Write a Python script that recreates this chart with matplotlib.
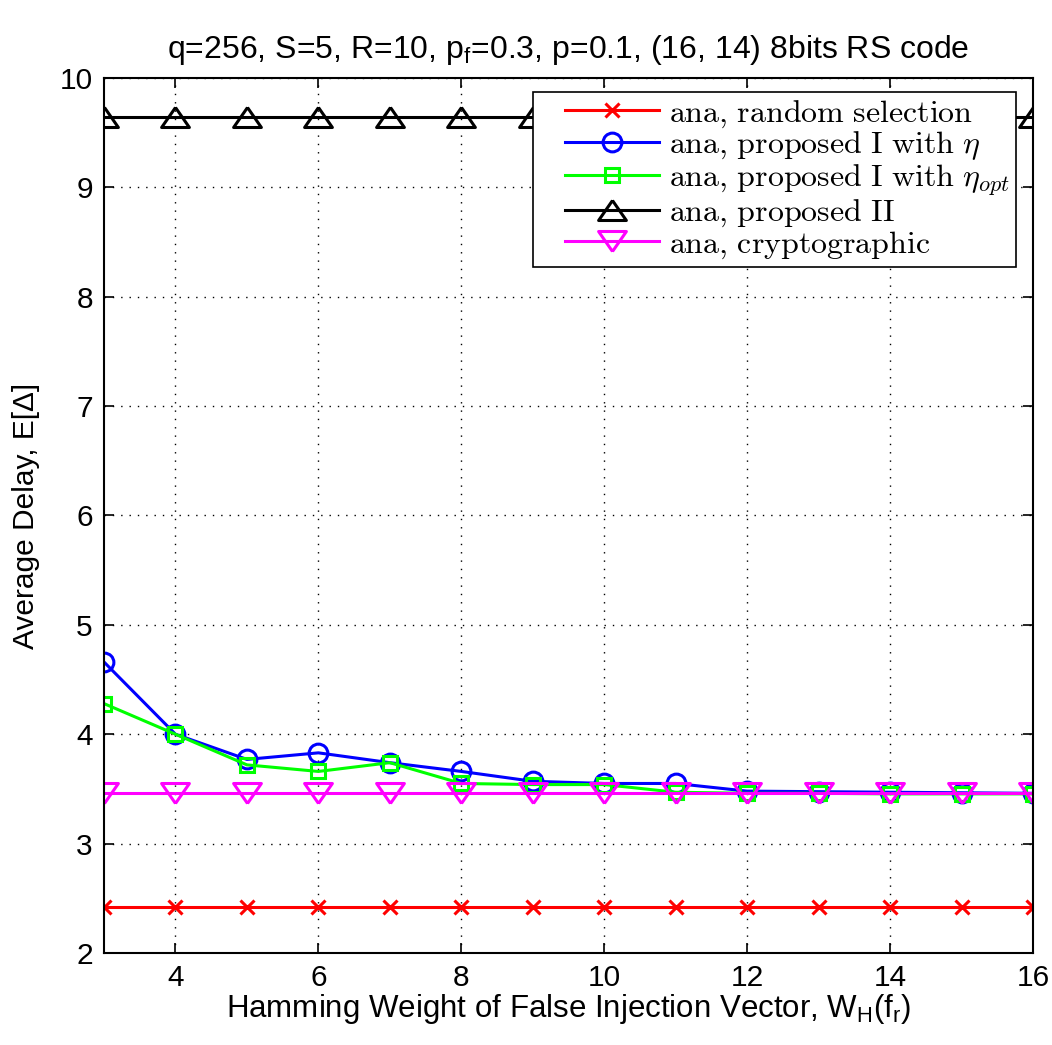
import matplotlib
matplotlib.use("Agg")
import matplotlib.pyplot as plt
from matplotlib.font_manager import FontProperties
from matplotlib.lines import Line2D
from matplotlib.legend_handler import HandlerLine2D

plt.rcParams['font.family'] = ['Liberation Sans', 'DejaVu Sans']
plt.rcParams['mathtext.fontset'] = 'custom'
plt.rcParams['mathtext.rm'] = 'Liberation Sans'
plt.rcParams['mathtext.it'] = 'Liberation Sans:italic'

# Hamming weight of the false injection vector
weights = [3, 4, 5, 6, 7, 8, 9, 10, 11, 12, 13, 14, 15, 16]

# average delay per scheme
random_sel = [2.42] * 14
proposed_eta = [4.66, 4.00, 3.77, 3.83, 3.74, 3.66, 3.57, 3.55, 3.55, 3.48, 3.475, 3.47, 3.465, 3.46]
proposed_eta_opt = [4.28, 4.00, 3.72, 3.66, 3.74, 3.55, 3.54, 3.54, 3.47, 3.46, 3.46, 3.455, 3.455, 3.455]
proposed_2 = [9.64] * 14
crypto = [3.46] * 14

labels = [r'$\mathrm{ana{,}\ random\ selection}$',
          r'$\mathrm{ana{,}\ proposed\ I\ with}\ \eta$',
          r'$\mathrm{ana{,}\ proposed\ I\ with}\ \eta_{opt}$',
          r'$\mathrm{ana{,}\ proposed\ II}$',
          r'$\mathrm{ana{,}\ cryptographic}$']

# wide, flat triangles
tri_up = [(0, 0.72), (-1, -0.72), (1, -0.72), (0, 0.72)]
tri_down = [(0, -0.72), (-1, 0.72), (1, 0.72), (0, -0.72)]

fig = plt.figure(figsize=(10.52, 10.45), dpi=100)
ax = fig.add_axes([0.0989, 0.088, 0.883, 0.8375])

lw = 2.2
ax.plot(weights, random_sel, color='#ff0000', lw=lw, marker='x', ms=9.5, mew=2.2, label=labels[0])
ax.plot(weights, proposed_eta, color='#0000ff', lw=lw, marker='o', ms=13.5, mew=2.2, mfc='none', label=labels[1])
ax.plot(weights, proposed_eta_opt, color='#00ff00', lw=lw, marker='s', ms=10, mew=2.2, mfc='none', label=labels[2])
ax.plot(weights, proposed_2, color='black', lw=lw, marker=tri_up, ms=20, mew=2.2, mfc='none', label=labels[3])
ax.plot(weights, crypto, color='#ff00ff', lw=lw, marker=tri_down, ms=20, mew=2.2, mfc='none', label=labels[4])

ax.set_xlim(3, 16)
ax.set_ylim(2, 10)
ax.set_xticks(range(4, 17, 2))
ax.set_yticks(range(2, 11))
ax.tick_params(direction='in', top=True, right=True, labelsize=21.5, length=7, width=1.2, pad=8)
for s in ax.spines.values():
    s.set_linewidth(1.5)
ax.grid(True, color='black', linestyle=(0, (1, 5)), linewidth=1)

ax.set_title(r'q=256, S=5, R=10, p$_\mathrm{f}$=0.3, p=0.1, (16, 14) 8bits RS code', fontsize=23, pad=14)
ax.set_xlabel(r'Hamming Weight of False Injection Vector, W$_\mathrm{H}$(f$_\mathrm{r}$)', fontsize=22.5, labelpad=0)
ax.set_ylabel('Average Delay, E[Δ]', fontsize=21.5, labelpad=14)

# xpad leaves a gap between the frame and the sample lines
prop = FontProperties(size=23, math_fontfamily='cm')
leg = ax.legend(loc='upper right', bbox_to_anchor=(0.982, 0.984), borderaxespad=0,
                prop=prop, handlelength=3.75, fancybox=False, framealpha=1,
                edgecolor='black', labelspacing=0.0, borderpad=0.2, handletextpad=0.3,
                handler_map={Line2D: HandlerLine2D(xpad=0.8)})
leg.get_frame().set_linewidth(1.2)

fig.savefig('out.png', dpi=100)
